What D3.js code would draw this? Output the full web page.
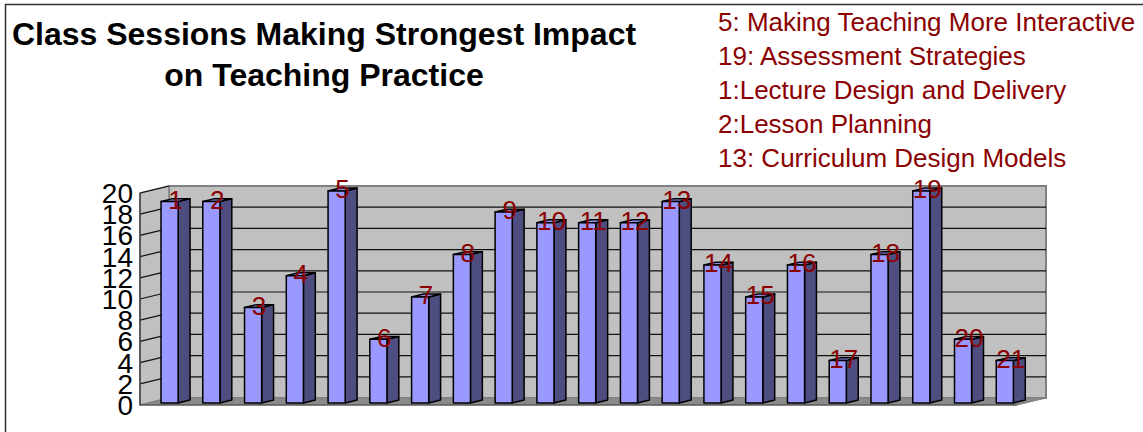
<!DOCTYPE html>
<html>
<head>
<meta charset="utf-8">
<script src="https://cdn.jsdelivr.net/npm/d3@7"></script>
<style>
  body { margin: 0; background: #fff; }
  svg { display: block; font-family: Arial, "Liberation Sans", sans-serif; }
</style>
</head>
<body>
<script>
// sessions 1..21 and how many people picked each
const sessions = d3.range(1, 22).map(String);
const votes = [19, 19, 9, 12, 20, 6, 10, 14, 18, 17, 17, 17, 19, 13, 10, 13, 4, 14, 20, 6, 4];
const yTicks = d3.range(0, 21, 2);
const titleLines = ['Class Sessions Making Strongest Impact', 'on Teaching Practice'];
const notes = [
  '5: Making Teaching More Interactive',
  '19: Assessment Strategies',
  '1:Lecture Design and Delivery',
  '2:Lesson Planning',
  '13: Curriculum Design Models'
];

const width = 1143;
const height = 432;

// 3d depth of the plot box
const depthX = 29;
const depthY = -7;
const barFront = 0.3;
const barBack = 0.71;

const svg = d3.select('body').append('svg')
  .attr('width', width)
  .attr('height', height);

// outer frame
svg.append('path')
  .attr('d', 'M5.5,' + (height + 10) + 'V4.5H' + (width + 10))
  .attr('fill', 'none')
  .attr('stroke', '#333')
  .attr('stroke-width', 1.5);

const x = d3.scaleBand()
  .domain(sessions)
  .range([140, 1017]);

const y = d3.scaleLinear()
  .domain([0, 20])
  .range([405, 193]);

const x0 = x.range()[0];
const x1 = x.range()[1];

// walls and floor
const poly = pts => 'M' + pts.map(p => p.join(',')).join('L') + 'Z';

svg.append('path')
  .attr('d', poly([[x0 + depthX, y(0) + depthY], [x1 + depthX, y(0) + depthY],
    [x1 + depthX, y(20) + depthY], [x0 + depthX, y(20) + depthY]]))
  .attr('fill', '#c0c0c0')
  .attr('stroke', '#808080')
  .attr('stroke-width', 2);

svg.append('path')
  .attr('d', poly([[x0, y(0)], [x0 + depthX, y(0) + depthY],
    [x0 + depthX, y(20) + depthY], [x0, y(20)]]))
  .attr('fill', '#c0c0c0')
  .attr('stroke', '#808080')
  .attr('stroke-width', 1.5);

svg.append('path')
  .attr('d', poly([[x0, y(0)], [x1, y(0)], [x1 + depthX, y(0) + depthY], [x0 + depthX, y(0) + depthY]]))
  .attr('fill', '#8a8a8a')
  .attr('stroke', '#808080')
  .attr('stroke-width', 1);

// grid lines: back wall and left wall
const grid = svg.append('g');
grid.selectAll('.back')
  .data(yTicks.slice(1, -1))
  .enter()
  .append('line')
  .attr('x1', x0 + depthX)
  .attr('x2', x1 + depthX)
  .attr('y1', d => y(d) + depthY)
  .attr('y2', d => y(d) + depthY)
  .attr('stroke', '#111')
  .attr('stroke-width', 1.2);

grid.selectAll('.side')
  .data(yTicks.slice(1))
  .enter()
  .append('line')
  .attr('x1', x0)
  .attr('x2', x0 + depthX)
  .attr('y1', d => y(d))
  .attr('y2', d => y(d) + depthY)
  .attr('stroke', '#111')
  .attr('stroke-width', 1.2);

svg.append('line')
  .attr('x1', x0).attr('x2', x0)
  .attr('y1', y(0)).attr('y2', y(20))
  .attr('stroke', '#444')
  .attr('stroke-width', 1.5);

svg.append('line')
  .attr('x1', x0).attr('x2', x1)
  .attr('y1', y(0)).attr('y2', y(0))
  .attr('stroke', '#444')
  .attr('stroke-width', 1.2);

// y axis labels (they crowd each other in the original too)
svg.append('g')
  .selectAll('text')
  .data(yTicks)
  .enter()
  .append('text')
  .attr('x', 133)
  .attr('y', d => y(d))
  .attr('dy', '0.36em')
  .attr('text-anchor', 'end')
  .attr('font-size', 28)
  .attr('fill', '#000')
  .text(d => d);

// bars
const bw = x.bandwidth() * 0.41;
const sideX = depthX * (barBack - barFront);
const sideY = depthY * (barBack - barFront);

const barData = sessions.map((s, i) => ({ s, v: votes[i] }));

const bars = svg.append('g')
  .selectAll('g')
  .data(barData)
  .enter()
  .append('g')
  .attr('stroke', '#000')
  .attr('stroke-width', 1.5)
  .attr('stroke-linejoin', 'round');

const barLeft = d => x(d.s) + (x.bandwidth() - bw) / 2 + depthX * barFront;
const barBase = y(0) + depthY * barFront;
const barTop = d => y(d.v) + depthY * barFront;

bars.append('path')
  .attr('fill', '#4d4d80')
  .attr('d', d => poly([[barLeft(d) + bw, barBase], [barLeft(d) + bw + sideX, barBase + sideY],
    [barLeft(d) + bw + sideX, barTop(d) + sideY], [barLeft(d) + bw, barTop(d)]]));

bars.append('path')
  .attr('fill', '#8f8fee')
  .attr('d', d => poly([[barLeft(d), barTop(d)], [barLeft(d) + bw, barTop(d)],
    [barLeft(d) + bw + sideX, barTop(d) + sideY], [barLeft(d) + sideX, barTop(d) + sideY]]));

bars.append('rect')
  .attr('fill', '#9999ff')
  .attr('x', d => barLeft(d))
  .attr('y', d => barTop(d))
  .attr('width', bw)
  .attr('height', d => barBase - barTop(d));

// value labels (session numbers)
svg.append('g')
  .selectAll('text')
  .data(barData)
  .enter()
  .append('text')
  .attr('x', d => barLeft(d) + (bw + sideX) / 2)
  .attr('y', d => barTop(d) - 2)
  .attr('dy', '0.36em')
  .attr('text-anchor', 'middle')
  .attr('font-size', 26)
  .attr('fill', '#8b0000')
  .text(d => d.s);

// title
svg.append('g')
  .selectAll('text')
  .data(titleLines)
  .enter()
  .append('text')
  .attr('x', 324)
  .attr('y', (d, i) => 45 + i * 41)
  .attr('text-anchor', 'middle')
  .attr('font-size', 32)
  .attr('font-weight', 'bold')
  .attr('fill', '#000')
  .text(d => d);

// notes on the top right
svg.append('g')
  .selectAll('text')
  .data(notes)
  .enter()
  .append('text')
  .attr('x', 718)
  .attr('y', (d, i) => 31 + i * 34)
  .attr('font-size', 26)
  .attr('fill', '#8b0000')
  .text(d => d);
</script>
</body>
</html>
